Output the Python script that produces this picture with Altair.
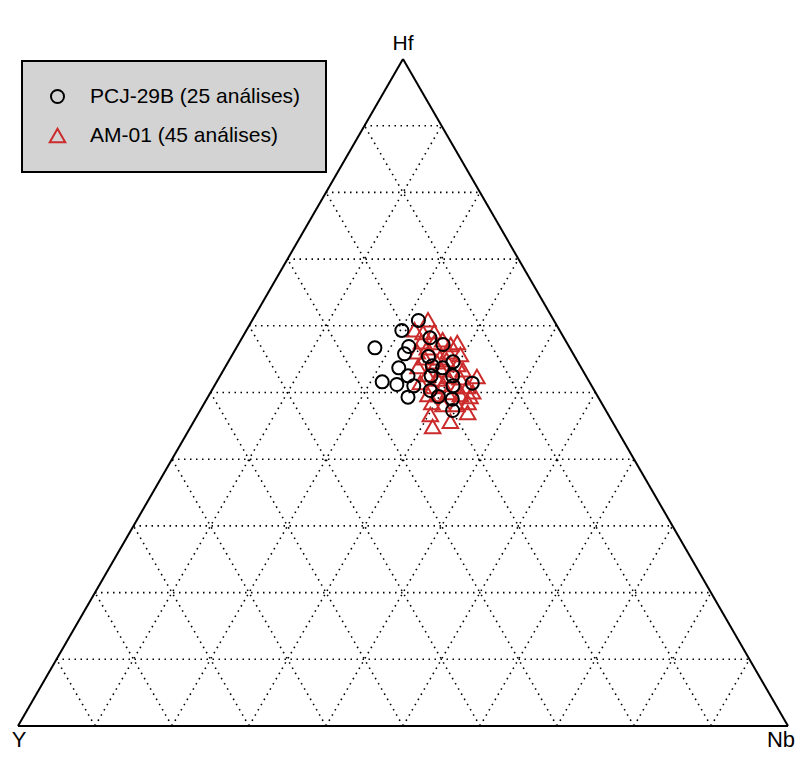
import altair as alt
import pandas as pd
import numpy as np

# ---- data (percent) ----
pcj_hf = [60.8, 59.3, 56.7, 56.9, 55.8, 58.2, 57.2, 55.4, 54.0, 53.7, 54.6, 53.7, 52.5,
          51.6, 51.2, 51.0, 49.3, 50.3, 49.4, 52.5, 51.0, 51.4, 49.0, 47.3, 52.5]
pcj_nb = [21.6, 20.2, 18.0, 22.3, 22.3, 24.4, 26.6, 25.6, 26.8, 28.3, 29.2, 22.6, 24.4,
          21.5, 23.6, 25.9, 26.0, 28.4, 29.9, 30.2, 31.0, 33.3, 31.9, 32.8, 27.4]

am_hf = [60.9, 59.4, 59.0, 59.1, 57.6, 57.5, 57.9, 57.2, 57.5, 56.1, 55.7, 56.1, 55.2,
         54.6, 54.9, 54.2, 53.9, 53.4, 53.4, 52.7, 52.0, 52.4, 52.2, 52.4, 51.5, 50.9,
         51.2, 50.9, 50.9, 50.1, 49.7, 49.7, 50.0, 49.7, 49.4, 48.5, 48.2, 48.2, 48.5,
         45.7, 44.9, 47.0, 46.7, 55.2, 56.7]
am_nb = [22.8, 21.8, 23.1, 24.5, 23.6, 25.3, 26.2, 27.6, 28.3, 27.8, 29.6, 23.8, 25.2,
         27.1, 28.2, 30.0, 25.0, 28.3, 31.1, 26.8, 28.5, 29.6, 31.3, 33.4, 26.5, 28.3,
         29.6, 31.6, 32.9, 34.0, 28.4, 29.7, 30.8, 32.6, 34.0, 29.5, 31.1, 32.9, 34.2,
         33.3, 31.4, 34.9, 30.2, 27.2, 24.8]

series_names = ["PCJ-29B (25 análises)", "AM-01 (45 análises)"]
vertex_labels = ["Y", "Nb", "Hf"]
grid_levels = [10, 20, 30, 40, 50, 60, 70, 80, 90]

H = np.sqrt(3) / 2


def to_xy(hf, nb):
    hf = np.asarray(hf) / 100.0
    nb = np.asarray(nb) / 100.0
    return nb + hf / 2.0, hf * H


# points: triangles first, circles drawn on top
ax, ay = to_xy(am_hf, am_nb)
px, py = to_xy(pcj_hf, pcj_nb)
pts = pd.concat([
    pd.DataFrame({"x": ax, "y": ay, "s": series_names[1],
                  "Hf": am_hf, "Nb": am_nb}),
    pd.DataFrame({"x": px, "y": py, "s": series_names[0],
                  "Hf": pcj_hf, "Nb": pcj_nb}),
], ignore_index=True)
pts["Y"] = 100 - pts["Hf"] - pts["Nb"]

# grid lines (constant Hf, Nb, Y)
rows = []
for g in grid_levels:
    f = g / 100.0
    rows.append({"x": f / 2, "y": f * H, "x2": 1 - f / 2, "y2": f * H})          # Hf = f
    rows.append({"x": f, "y": 0.0, "x2": f + (1 - f) / 2, "y2": (1 - f) * H})     # Nb = f
    rows.append({"x": 1 - f, "y": 0.0, "x2": (1 - f) / 2, "y2": (1 - f) * H})     # Y = f
grid = pd.DataFrame(rows)

edges = pd.DataFrame([
    {"x": 0.0, "y": 0.0, "x2": 1.0, "y2": 0.0},
    {"x": 1.0, "y": 0.0, "x2": 0.5, "y2": H},
    {"x": 0.5, "y": H, "x2": 0.0, "y2": 0.0},
])

labels = pd.DataFrame({
    "x": [0.0, 1.0, 0.5],
    "y": [0.0, 0.0, H],
    "t": vertex_labels,
})

xs = alt.Scale(domain=[0, 1], nice=False, zero=False)
ys = alt.Scale(domain=[0, H], nice=False, zero=False)

X = alt.X("x:Q", scale=xs, axis=None)
Yc = alt.Y("y:Q", scale=ys, axis=None)

grid_layer = alt.Chart(grid).mark_rule(
    color="black", strokeWidth=1.6, strokeDash=[1.5, 4.5]
).encode(x=X, y=Yc, x2="x2:Q", y2="y2:Q")

edge_layer = alt.Chart(edges).mark_rule(color="black", strokeWidth=2).encode(
    x=X, y=Yc, x2="x2:Q", y2="y2:Q",
)

font = "Liberation Sans"
lab_top = alt.Chart(labels[labels.t == "Hf"]).mark_text(
    font=font, fontSize=21, baseline="alphabetic", align="center", dy=-9
).encode(x=X, y=Yc, text="t:N")
lab_y = alt.Chart(labels[labels.t == "Y"]).mark_text(
    font=font, fontSize=22, baseline="alphabetic", align="center", dx=1, dy=21
).encode(x=X, y=Yc, text="t:N")
lab_nb = alt.Chart(labels[labels.t == "Nb"]).mark_text(
    font=font, fontSize=22, baseline="alphabetic", align="right", dx=7, dy=21
).encode(x=X, y=Yc, text="t:N")

red = "#cc2b2b"
point_layer = alt.Chart(pts).mark_point(filled=False, strokeWidth=2, opacity=1).encode(
    x=X, y=Yc,
    color=alt.Color("s:N", scale=alt.Scale(domain=series_names, range=["black", red]),
                    legend=alt.Legend(title=None)),
    shape=alt.Shape("s:N", scale=alt.Scale(domain=series_names, range=["circle", "triangle-up"]),
                    legend=alt.Legend(title=None)),
    size=alt.Size("s:N", scale=alt.Scale(domain=series_names, range=[170, 240]), legend=None),
    tooltip=["s:N", "Hf:Q", "Nb:Q", "Y:Q"],
)

chart = alt.layer(grid_layer, edge_layer, point_layer, lab_top, lab_y, lab_nb).properties(
    width=770, height=667,
    autosize=alt.AutoSizeParams(type="none"),
    padding={"left": 10, "top": 51, "right": 9, "bottom": 28},
).configure_view(stroke=None).configure_legend(
    orient="none", legendX=4, legendY=2,
    fillColor="#d3d3d3", strokeColor="black", strokeWidth=2,
    padding=25, rowPadding=16, labelFont=font, labelFontSize=21,
    labelOffset=22, symbolSize=100, symbolStrokeWidth=2, labelLimit=0,
    labelColor="black",
)

chart.save("out.html", embed_options={"renderer": "svg", "actions": False})
